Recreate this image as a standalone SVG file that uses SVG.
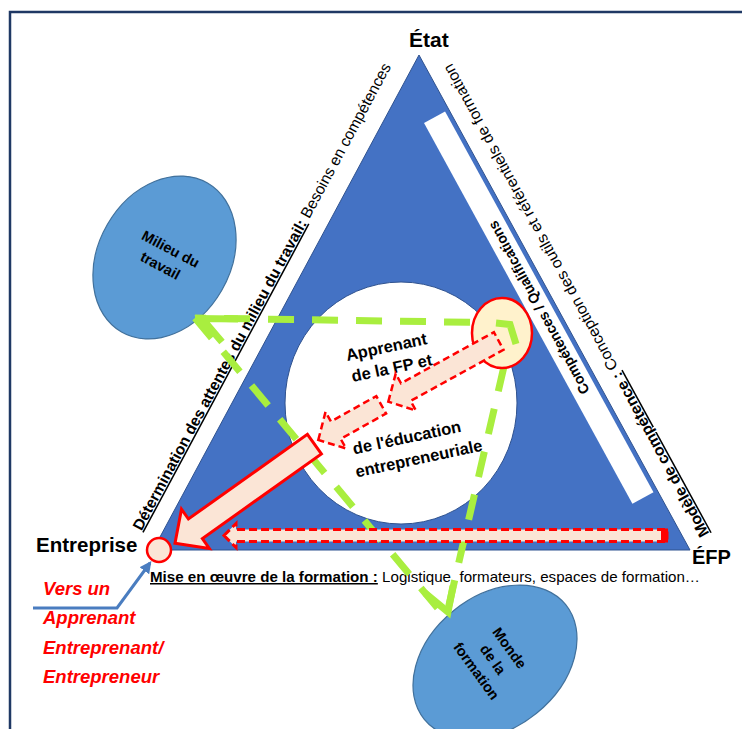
<svg xmlns="http://www.w3.org/2000/svg" width="742" height="729" viewBox="0 0 742 729">
<style>
.t{font-family:"Liberation Sans",Arial,sans-serif;fill:#000}
.b{font-weight:bold}
.ell{fill:#5B9BD5;stroke:#41719C;stroke-width:1.2}
.peach{fill:#FBE5D6;stroke:#FF0000;stroke-linejoin:miter}
.dash{stroke-width:2.5;stroke-dasharray:7 4}
.g{fill:none;stroke:#A9EE3F;stroke-width:7}
.gd{stroke-dasharray:26 18}
.gc{stroke-linejoin:miter;stroke-miterlimit:10}
.red{font-family:"Liberation Sans",Arial,sans-serif;font-weight:bold;font-style:italic;font-size:18.5px;fill:#FF0000}
</style>
<defs>
<marker id="ah" viewBox="0 0 10 10" refX="8" refY="5" markerWidth="4" markerHeight="4" orient="auto" markerUnits="strokeWidth">
<path d="M0,0 L10,5 L0,10 z" fill="#4A7DC0"/>
</marker>
</defs>
<rect x="10" y="12" width="800" height="800" fill="#fff" stroke="#1F3864" stroke-width="2.5"/>

<g id="triangle">
<polygon points="419,55 153,550 690,550" fill="#4472C4" stroke="#2F528F" stroke-width="1"/>
<rect x="-217" y="-12" width="434" height="24" fill="#fff" transform="translate(538.75,307.6) rotate(61.3)"/>
<text class="t b" font-size="14.5" text-anchor="middle" dy="0.35em" textLength="195" lengthAdjust="spacingAndGlyphs" transform="translate(538.75,307.6) rotate(-118.7)">Compétences / Qualifications</text>
</g>

<g id="apprenant">
<ellipse cx="401" cy="403" rx="116" ry="121" fill="#fff" stroke="#2F528F" stroke-width="1"/>
<g class="t b" font-size="16.5" text-anchor="middle">
<text transform="rotate(-12 387.5 352.5)" x="387.5" y="352.5">Apprenant</text>
<text transform="rotate(-12 393 373.5)" x="393" y="373.5">de la FP et</text>
<text transform="rotate(-12 408 443)" x="408" y="443">de l'éducation</text>
<text transform="rotate(-12 420 464)" x="420" y="464">entrepreneuriale</text>
</g>
</g>

<g id="milieu">
<ellipse cx="0" cy="0" rx="66" ry="86" class="ell" transform="translate(164.5,257.5) rotate(30)"/>
<g class="t b" font-size="14.5" text-anchor="middle">
<text transform="rotate(28 168.3 253.5)" x="168.3" y="253.5">Milieu du</text>
<text transform="rotate(28 158 270)" x="158" y="270">travail</text>
</g>
</g>

<g id="monde">
<ellipse cx="0" cy="0" rx="66" ry="91" class="ell" transform="translate(495,662) rotate(51)"/>
<g class="t b" font-size="14.5" text-anchor="middle">
<text transform="rotate(54 509.5 648)" x="509.5" y="648" dy="0.35em">Monde</text>
<text transform="rotate(54 493 659.5)" x="493" y="659.5" dy="0.35em">de la</text>
<text transform="rotate(54 476.5 671)" x="476.5" y="671" dy="0.35em">formation</text>
</g>
</g>

<g id="labels" class="t">
<text class="b" x="409" y="47" font-size="21">État</text>
<text class="b" x="692" y="564" font-size="20">ÉFP</text>
<text class="b" x="36" y="552" font-size="20.5">Entreprise</text>
<text font-size="15.5" transform="translate(141.4,531.6) rotate(-61.74)" textLength="528" lengthAdjust="spacingAndGlyphs"><tspan class="b" text-decoration="underline">Détermination des attentes du milieu du travail:</tspan> Besoins en compétences</text>
<text font-size="15.5" transform="translate(709.5,533.6) rotate(-118.7)" textLength="537" lengthAdjust="spacingAndGlyphs"><tspan class="b" text-decoration="underline">Modèle de compétence :</tspan> Conception des outils et référentiels de formation</text>
<text font-size="15" x="150" y="582" textLength="550" lengthAdjust="spacingAndGlyphs"><tspan class="b" text-decoration="underline">Mise en œuvre de la formation :</tspan> Logistique, formateurs, espaces de formation…</text>
</g>

<g id="vers">
<text class="red" x="43" y="595">Vers un</text>
<text class="red" x="43" y="624">Apprenant</text>
<text class="red" x="43" y="654">Entreprenant/</text>
<text class="red" x="43" y="683">Entrepreneur</text>
</g>

<g id="connectors">
<polyline points="33,608 117,608 150,563" fill="none" stroke="#4A7DC0" stroke-width="3" marker-end="url(#ah)"/>
<line class="g gd" x1="514" y1="323" x2="195" y2="318"/>
<line class="g gd" x1="195" y1="318" x2="446" y2="618"/>
<line class="g gd" x1="514" y1="323" x2="446" y2="618"/>
<polyline class="g gc" points="238,319 202,318.5 222,342"/>
<polyline class="g gc" points="425,593 448,612 453,586"/>
<polygon class="peach" stroke-width="3" points="175,543.3 181.5,509.2 188.4,519 307.4,434.3 321.4,453.9 202.4,538.6 209.3,548.4"/>
<polygon class="peach dash" points="318.3,440 325.5,411.9 330.9,421.5 376.3,396.1 386.1,413.5 340.7,438.9 346.1,448.5"/>
<polygon class="peach" stroke-width="3" stroke-dasharray="8 4" points="224,535.5 236,523.5 236,529.5 667,529.5 667,541.5 236,541.5 236,547.5"/>
<rect x="661" y="528.5" width="7" height="14" fill="#FF0000"/>
</g>

<g id="noeud-efp">
<ellipse cx="502" cy="333" rx="30" ry="35" fill="#FFF2CC" stroke="#FF0000" stroke-width="2.5"/>
</g>
<g id="connectors-top">
<polygon class="peach dash" points="388.3,401.7 395.7,373.7 401,383.3 493.9,332.2 503.5,349.8 410.6,400.9 415.9,410.5"/>
<polyline class="g gc" points="496,323 510,324.5 516,344"/>
</g>
<g id="noeud-entreprise">
<circle cx="159" cy="550" r="12" fill="#FBE5D6" stroke="#FF0000" stroke-width="2.5"/>
</g>
</svg>
